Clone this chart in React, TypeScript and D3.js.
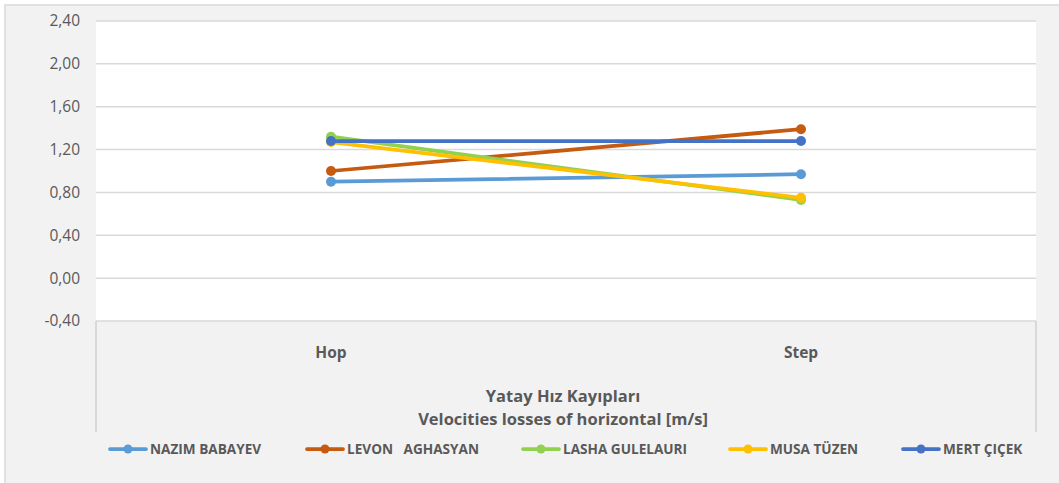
import React from 'react';
import * as d3 from 'd3';

const categories = ['Hop', 'Step'];
const seriesNames = ['NAZIM BABAYEV', 'LEVON   AGHASYAN', 'LASHA GULELAURI', 'MUSA TÜZEN', 'MERT ÇIÇEK'];
const seriesColors = ['#5B9BD5', '#C55A11', '#92D050', '#FFC000', '#4472C4'];
const nazim = [0.9, 0.97];
const levon = [1.0, 1.39];
const lasha = [1.32, 0.73];
const musa = [1.27, 0.75];
const mert = [1.28, 1.28];
const yTicks = [-0.4, 0, 0.4, 0.8, 1.2, 1.6, 2.0, 2.4];
const titleLines = ['Yatay Hız Kayıpları', 'Velocities losses of horizontal [m/s]'];

const W = 1059;
const H = 483;
const plot = { left: 96, right: 1036, top: 21, bottom: 321 };
const legendX = [110, 307, 523, 730, 903];

const App = () => {
  const x = d3.scaleBand().domain(categories).range([plot.left, plot.right]);
  const y = d3.scaleLinear().domain([-0.4, 2.4]).range([plot.bottom, plot.top]);
  // excel style: comma decimal, plain hyphen for negatives
  const fmt = (v: number) => d3.format('.2f')(v).replace('.', ',').replace('\u2212', '-');
  const allSeries = [nazim, levon, lasha, musa, mert];
  const cx = (i: number) => (x(categories[i]) as number) + x.bandwidth() / 2;
  const line = d3
    .line<number>()
    .x((_, i) => cx(i))
    .y(d => y(d));
  const font = '"Open Sans", Lato, sans-serif';

  return (
    <svg width={W} height={H} style={{ position: 'absolute', left: 0, top: 0 }} fontFamily={font}>
      <rect x={0} y={0} width={W} height={H} fill="#ffffff" />
      <rect x={5} y={5} width={W} height={H} fill="#f2f2f2" stroke="#d9d9d9" strokeWidth={1.5} />
      <rect x={plot.left} y={plot.top} width={plot.right - plot.left} height={plot.bottom - plot.top} fill="#ffffff" />
      {yTicks.map(t => (
        <g key={t}>
          <line x1={plot.left} x2={plot.right} y1={y(t)} y2={y(t)} stroke="#d9d9d9" strokeWidth={1.5} />
          <text x={80} y={y(t)} dy="0.35em" textAnchor="end" fontSize={15.5} fill="#595959">
            {fmt(t)}
          </text>
        </g>
      ))}
      <line x1={plot.left} x2={plot.left} y1={plot.bottom} y2={432} stroke="#d0d0d0" strokeWidth={1.5} />
      <line x1={plot.right} x2={plot.right} y1={plot.bottom} y2={432} stroke="#d0d0d0" strokeWidth={1.5} />
      {categories.map((c, i) => (
        <text key={c} x={cx(i)} y={353} dy="0.35em" textAnchor="middle" fontSize={15.5} fontWeight="bold" fill="#595959">
          {c}
        </text>
      ))}
      {titleLines.map((t, i) => (
        <text
          key={t}
          x={(plot.left + plot.right) / 2 - 3}
          y={396 + i * 23}
          dy="0.35em"
          textAnchor="middle"
          fontSize={16.5}
          fontWeight="bold"
          fill="#595959"
        >
          {t}
        </text>
      ))}
      {allSeries.map((s, si) => (
        <g key={seriesNames[si]}>
          <path d={line(s) as string} fill="none" stroke={seriesColors[si]} strokeWidth={3.75} strokeLinecap="round" />
          {s.map((v, i) => (
            <circle key={i} cx={cx(i)} cy={y(v)} r={5} fill={seriesColors[si]} />
          ))}
        </g>
      ))}
      {seriesNames.map((n, i) => (
        <g key={n} transform={`translate(${legendX[i]},449)`}>
          <line x1={0} x2={36} y1={0} y2={0} stroke={seriesColors[i]} strokeWidth={3.75} strokeLinecap="round" />
          <circle cx={18} cy={0} r={4.5} fill={seriesColors[i]} />
          <text x={40} y={0} dy="0.35em" fontSize={13.6} fontWeight="bold" fill="#595959" style={{ whiteSpace: 'pre' }}>
            {n}
          </text>
        </g>
      ))}
    </svg>
  );
};

export default App;
